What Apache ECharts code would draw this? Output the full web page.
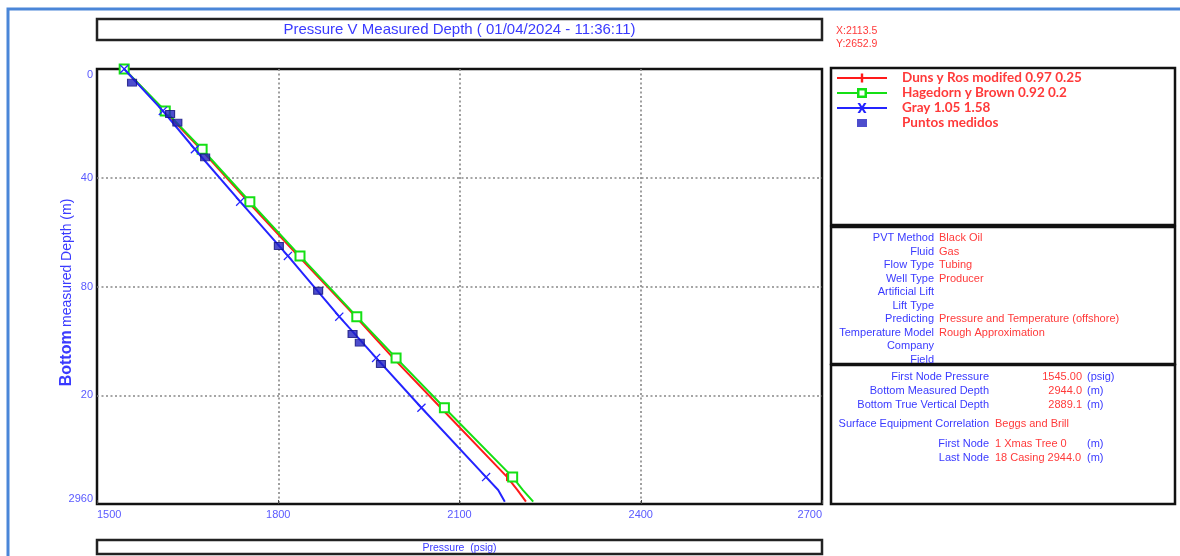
<!DOCTYPE html>
<html>
<head>
<meta charset="utf-8">
<script src="https://cdn.jsdelivr.net/npm/echarts@6/dist/echarts.min.js"></script>
<style>
  html, body { margin: 0; padding: 0; background: #fff; }
  #chart { width: 1180px; height: 556px; }
</style>
</head>
<body>
<div id="chart"></div>
<script>
// Depth nodes (m) shared by the three correlations
const depthNodes = [0, 285, 546, 903, 1272, 1685, 1966, 2305, 2777, 2865, 2944];
// 1 = node drawn with a marker
const markerNodes = [1, 1, 1, 1, 1, 1, 1, 1, 1, 0, 0];

// Pressure (psig) per correlation at each depth node
const dunsRosPressure  = [1545, 1611, 1672, 1750, 1833, 1928, 1990, 2069, 2179, 2196, 2210];
const hagedornPressure = [1545, 1613, 1674, 1753, 1836, 1930, 1995, 2075, 2188, 2205, 2222];
const grayPressure     = [1545, 1609, 1662, 1737, 1816, 1901, 1962, 2037, 2144, 2164, 2175];

// Measured survey points
const measuredPressure = [1558, 1621, 1633, 1679, 1801, 1866, 1923, 1935, 1970];
const measuredDepth    = [93, 306, 365, 601, 1204, 1509, 1803, 1862, 2007];

// Axis ticks
const depthTickLabels = ['0', '40', '80', '20', '2960'];
const depthInterval = 740;

const seriesNames = [
  'Duns y Ros modifed 0.97 0.25',
  'Hagedorn y Brown 0.92 0.2',
  'Gray 1.05 1.58',
  'Puntos medidos'
];

// Info panel rows
const pvtLabels = ['PVT Method', 'Fluid', 'Flow Type', 'Well Type', 'Artificial Lift',
  'Lift Type', 'Predicting', 'Temperature Model', 'Company', 'Field'];
const pvtValues = ['Black Oil', 'Gas', 'Tubing', 'Producer', '', '',
  'Pressure and Temperature (offshore)', 'Rough Approximation', '', ''];

const nodeLabels = ['First Node Pressure', 'Bottom Measured Depth', 'Bottom True Vertical Depth'];
const nodeValues = ['1545.00', '2944.0', '2889.1'];
const nodeUnits = ['(psig)', '(m)', '(m)'];

const BLUE_TXT = '#3a3aff';
const RED_TXT = '#ff3a3a';
const FONT = 'Liberation Sans, Arial, sans-serif';

function curve(pressures) {
  return pressures.map((p, i) => {
    const item = { value: [p, depthNodes[i]] };
    if (!markerNodes[i]) item.symbol = 'none';
    return item;
  });
}

const chart = echarts.init(document.getElementById('chart'), null, { renderer: 'canvas' });

// Static boxes and panel texts
const graphics = [];
graphics.push({
  type: 'rect', z: 0, silent: true,
  shape: { x: 8, y: 9, width: 1200, height: 600 },
  style: { fill: 'none', stroke: '#4a86d8', lineWidth: 3 }
});
graphics.push({
  type: 'rect', shape: { x: 97, y: 19, width: 725, height: 21 },
  style: { fill: '#fff', stroke: '#222', lineWidth: 2.5 }
});
graphics.push({
  type: 'text', x: 459.5, y: 30,
  style: { text: 'Pressure V Measured Depth ( 01/04/2024 - 11:36:11)', fill: BLUE_TXT,
    font: '15px ' + FONT, align: 'center', verticalAlign: 'middle' }
});
graphics.push({
  type: 'text', x: 836, y: 31,
  style: { text: 'X:2113.5', fill: RED_TXT, font: '10.5px ' + FONT, verticalAlign: 'middle' }
});
graphics.push({
  type: 'text', x: 836, y: 44,
  style: { text: 'Y:2652.9', fill: RED_TXT, font: '10.5px ' + FONT, verticalAlign: 'middle' }
});
graphics.push({
  type: 'rect', shape: { x: 97, y: 540, width: 725, height: 14 },
  style: { fill: '#fff', stroke: '#222', lineWidth: 2.5 }
});
graphics.push({
  type: 'text', x: 459.5, y: 548,
  style: { text: 'Pressure  (psig)', fill: BLUE_TXT, font: '10.5px ' + FONT,
    align: 'center', verticalAlign: 'middle' }
});

// Right column: legend box, PVT box, node box
graphics.push({
  type: 'rect', shape: { x: 831, y: 68, width: 344, height: 157 },
  style: { fill: 'none', stroke: '#111', lineWidth: 2.5 }
});
graphics.push({
  type: 'rect', shape: { x: 831, y: 227, width: 344, height: 137 },
  style: { fill: '#fff', stroke: '#111', lineWidth: 2.5 }
});
pvtLabels.forEach((lab, i) => {
  const y = 238 + i * 13.5;
  graphics.push({
    type: 'text', x: 934, y: y, z: 5,
    style: { text: lab, fill: BLUE_TXT, font: '11px ' + FONT, align: 'right', verticalAlign: 'middle' }
  });
  if (pvtValues[i]) {
    graphics.push({
      type: 'text', x: 939, y: y, z: 5,
      style: { text: pvtValues[i], fill: RED_TXT, font: '11px ' + FONT, verticalAlign: 'middle' }
    });
  }
});
graphics.push({
  type: 'rect', z: 10, shape: { x: 831, y: 365, width: 344, height: 139 },
  style: { fill: '#fff', stroke: '#111', lineWidth: 2.5 }
});
nodeLabels.forEach((lab, i) => {
  const y = 377 + i * 14;
  graphics.push({
    type: 'text', x: 989, y: y, z: 11,
    style: { text: lab, fill: BLUE_TXT, font: '11px ' + FONT, align: 'right', verticalAlign: 'middle' }
  });
  graphics.push({
    type: 'text', x: 1082, y: y, z: 11,
    style: { text: nodeValues[i], fill: RED_TXT, font: '11px ' + FONT, align: 'right', verticalAlign: 'middle' }
  });
  graphics.push({
    type: 'text', x: 1087, y: y, z: 11,
    style: { text: nodeUnits[i], fill: BLUE_TXT, font: '11px ' + FONT, verticalAlign: 'middle' }
  });
});
const nodeExtra = [
  { y: 424, label: 'Surface Equipment Correlation', value: 'Beggs and Brill', unit: '' },
  { y: 444, label: 'First Node', value: '1 Xmas Tree 0', unit: '(m)' },
  { y: 458, label: 'Last Node', value: '18 Casing 2944.0', unit: '(m)' }
];
nodeExtra.forEach(r => {
  graphics.push({
    type: 'text', x: 989, y: r.y, z: 11,
    style: { text: r.label, fill: BLUE_TXT, font: '11px ' + FONT, align: 'right', verticalAlign: 'middle' }
  });
  graphics.push({
    type: 'text', x: 995, y: r.y, z: 11,
    style: { text: r.value, fill: RED_TXT, font: '11px ' + FONT, verticalAlign: 'middle' }
  });
  if (r.unit) {
    graphics.push({
      type: 'text', x: 1087, y: r.y, z: 11,
      style: { text: r.unit, fill: BLUE_TXT, font: '11px ' + FONT, verticalAlign: 'middle' }
    });
  }
});

// Legend icons: line sample with the series marker in a 50x14 frame
const legendIcons = [
  'path://M0,6L50,6L50,8L0,8Z M23.8,2.5L26.2,2.5L26.2,11.5L23.8,11.5Z',
  'path://M0,6L20,6L20,8L0,8Z M30,6L50,6L50,8L30,8Z M20,2L30,2L30,12L20,12Z M22.5,4.5L22.5,9.5L27.5,9.5L27.5,4.5Z',
  'path://M0,6L50,6L50,8L0,8Z M20.5,2L23,2L25,5.3L27,2L29.5,2L26.3,7L29.5,12L27,12L25,8.7L23,12L20.5,12L23.7,7Z',
  'path://M0,0M50,14M20,3L30,3L30,11L20,11Z'
];

const xMarker = 'path://M0,1L1,0L5,4L9,0L10,1L6,5L10,9L9,10L5,6L1,10L0,9L4,5Z';

const option = {
  animation: false,
  backgroundColor: '#fff',
  grid: {
    left: 97, top: 69, width: 725, height: 435,
    show: true, borderColor: '#111', borderWidth: 2.5, backgroundColor: 'transparent'
  },
  xAxis: {
    type: 'value', min: 1500, max: 2700, interval: 300,
    axisLine: { show: false, onZero: false },
    axisTick: { show: true, inside: true, length: 4, lineStyle: { color: '#444' } },
    axisLabel: {
      color: '#5a5aff', fontSize: 11, fontFamily: FONT, margin: 5,
      alignMinLabel: 'left', alignMaxLabel: 'right',
      formatter: v => String(v)
    },
    splitLine: { show: true, showMinLine: false, showMaxLine: false,
      lineStyle: { color: '#888', type: [2, 2.5], width: 1.6 } }
  },
  yAxis: {
    type: 'value', inverse: true, min: 0, max: 2960, interval: depthInterval,
    axisLine: { show: false, onZero: false },
    axisTick: { show: false },
    axisLabel: {
      color: '#5a5aff', fontSize: 11, fontFamily: FONT, margin: 4,
      verticalAlignMinLabel: 'top', verticalAlignMaxLabel: 'bottom',
      formatter: v => depthTickLabels[Math.round(v / depthInterval)]
    },
    splitLine: { show: true, showMinLine: false, showMaxLine: false,
      lineStyle: { color: '#888', type: [2, 2.5], width: 1.6 } },
    name: '{b|Bottom} {m|measured Depth (m)}',
    nameLocation: 'middle', nameRotate: 90, nameGap: 22,
    nameMoveOverlap: false,
    nameTextStyle: {
      padding: [0, 12, 0, 0],
      rich: {
        b: { fontSize: 16, fontWeight: 'bold', color: '#3a3aff', fontFamily: FONT },
        m: { fontSize: 14, color: '#3a3aff', fontFamily: FONT }
      }
    }
  },
  legend: {
    left: 832, top: 66, orient: 'vertical',
    itemWidth: 50, itemHeight: 14, itemGap: 1,
    symbolKeepAspect: true,
    itemStyle: { borderWidth: 0 },
    textStyle: { color: '#ff3a3a', fontFamily: 'Lato, sans-serif', fontWeight: 'bold',
      fontSize: 13.5, padding: [0, 0, 0, 10] },
    data: seriesNames.map((n, i) => ({ name: n, icon: legendIcons[i] })),
    selectedMode: false
  },
  graphic: graphics,
  series: [
    {
      name: seriesNames[0], type: 'line',
      data: curve(dunsRosPressure),
      symbol: 'rect', symbolSize: [2.5, 8],
      lineStyle: { color: '#ff1a1a', width: 2 },
      itemStyle: { color: '#ff1a1a', borderWidth: 0 },
      z: 3
    },
    {
      name: seriesNames[1], type: 'line',
      data: curve(hagedornPressure),
      symbol: 'emptyRect', symbolSize: 9,
      lineStyle: { color: '#14e014', width: 2 },
      itemStyle: { color: '#14e014', borderWidth: 2.2 },
      z: 4
    },
    {
      name: seriesNames[2], type: 'line',
      data: curve(grayPressure),
      symbol: xMarker, symbolSize: 9,
      lineStyle: { color: '#2424ff', width: 2 },
      itemStyle: { color: '#2424ff', borderWidth: 0 },
      z: 5
    },
    {
      name: seriesNames[3], type: 'scatter',
      data: measuredPressure.map((p, i) => [p, measuredDepth[i]]),
      symbol: 'rect', symbolSize: [9, 7],
      itemStyle: { color: '#2020c0', borderColor: '#10107a', borderWidth: 1 },
      z: 6
    }
  ]
};

chart.setOption(option);
</script>
</body>
</html>
